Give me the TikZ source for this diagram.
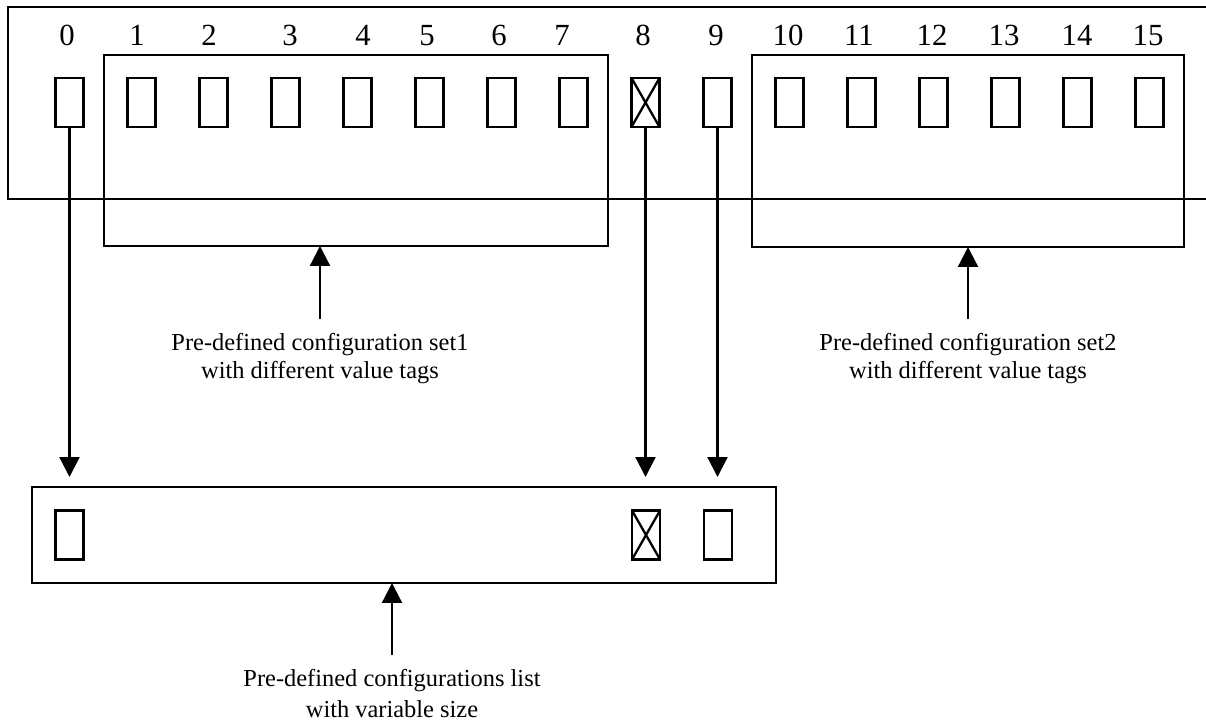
\documentclass[tikz,border=0pt]{standalone}
\usepackage{fontspec}
\setmainfont{Liberation Serif}
\usetikzlibrary{arrows.meta,fit}

\begin{document}
\begin{tikzpicture}[x=0.02cm,y=-0.02cm,line width=1.3pt,
  every node/.style={inner sep=0pt, outer sep=0pt},
  slot/.style={draw, minimum width=0.56cm, minimum height=0.98cm},
  group/.style={draw, fit={#1}},
  digit/.style={anchor=base, font=\fontsize{17.5}{21}\selectfont},
  lbl/.style={anchor=north, align=center, font=\fontsize{13.9}{16}\selectfont},
  arr/.style={-{Triangle[width=0.4cm,length=0.4cm]}}]

\useasboundingbox (0,0) rectangle (1206,722);

\draw (1206,7) -| (8,199) -- (1206,199);

\node[group={(104,55) (608,246)}] (set1) {};
\node[group={(752,55) (1184,247)}] (set2) {};
\node[group={(32,487) (776,583)}] (lst) {};

\foreach \i in {0,...,15}
  \node[slot] (s\i) at ({69.5+72*\i},102.5) {};
\foreach \i/\lx in {0/67,1/137,2/209,3/290,4/363,5/427,6/499,7/562,8/643,9/716,10/788,11/859,12/932,13/1004,14/1077,15/1148}
  \node[digit] (d\i) at (\lx,46) {\i};

\node[slot] (l0) at (69.5,535) {};
\node[slot] (l8) at (646,535) {};
\node[slot] (l9) at (718,535) {};
\draw (s8.north west) -- (s8.south east) (s8.north east) -- (s8.south west);
\draw (l8.north west) -- (l8.south east) (l8.north east) -- (l8.south west);

\node[lbl] (lab1) at (320,333) {Pre-defined configuration set1\\with different value tags};
\node[lbl] (lab2) at (968,333) {Pre-defined configuration set2\\with different value tags};
\node[lbl, font=\fontsize{13.9}{18}\selectfont] (lab3) at (392,669) {Pre-defined configurations list\\with variable size};

\draw[arr, shorten >=0.2cm] (s0.south) -- (s0.south |- lst.north);
\draw[arr, shorten >=0.2cm] (s8.south) -- (s8.south |- lst.north);
\draw[arr, shorten >=0.2cm] (s9.south) -- (s9.south |- lst.north);
\draw[arr, shorten <=0.28cm] (lab1.north) -- (lab1.north |- set1.south);
\draw[arr, shorten <=0.28cm] (lab2.north) -- (lab2.north |- set2.south);
\draw[arr, shorten <=0.28cm] (lab3.north) -- (lab3.north |- lst.south);
\end{tikzpicture}
\end{document}
